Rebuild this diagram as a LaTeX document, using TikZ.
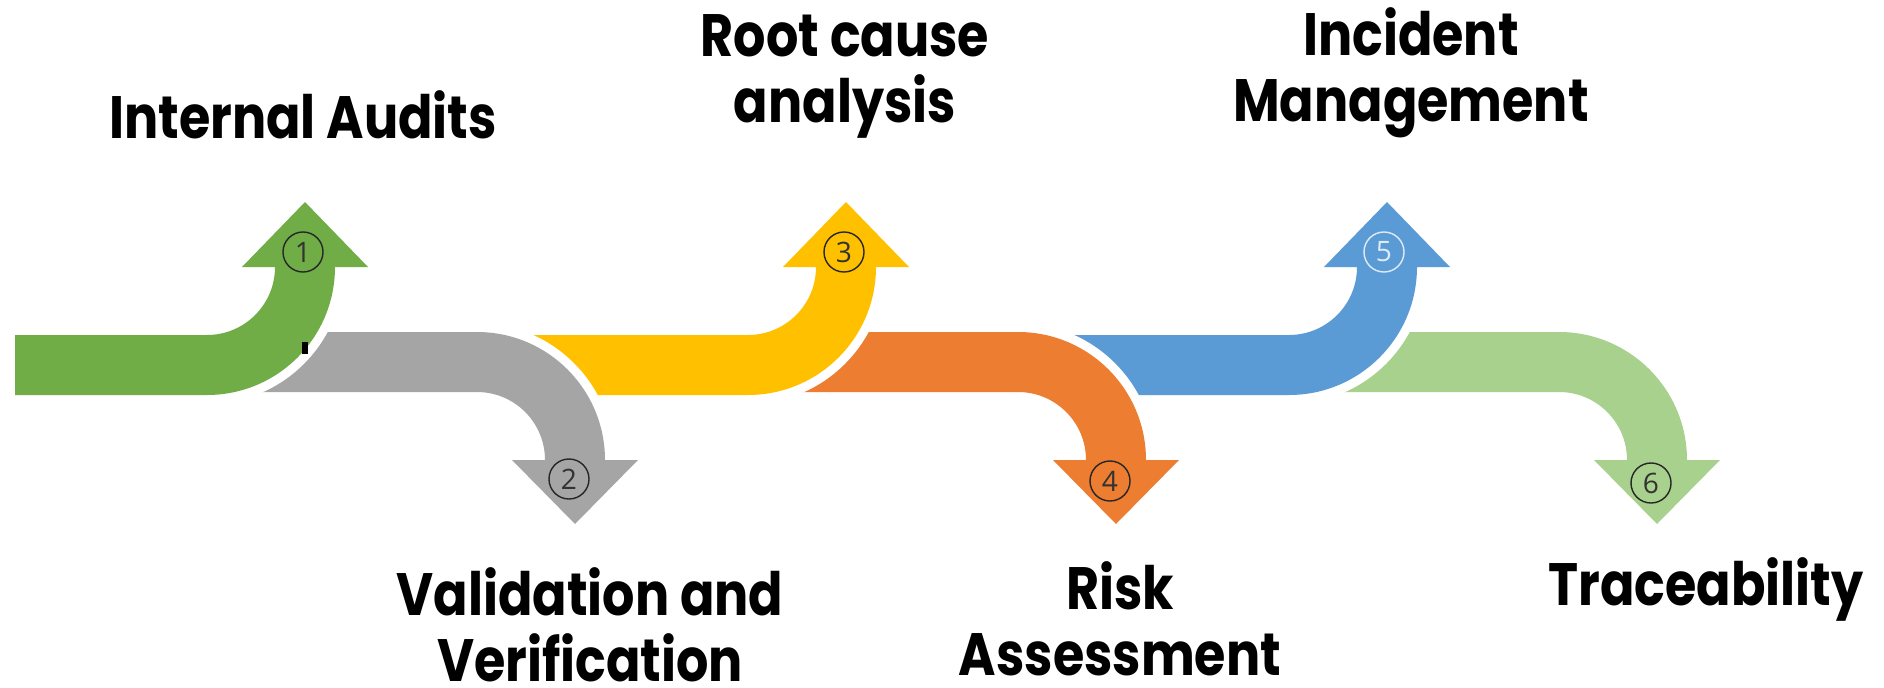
\documentclass[tikz,border=0pt]{standalone}
\usepackage{fontspec}
\setmainfont{Poppins}[FakeStretch=0.85]
\newfontfamily\numfont{Open Sans}
\usepackage{tikz}
\usepackage{xcolor}
\usetikzlibrary{calc,positioning}
\definecolor{stepGreen}{RGB}{112,173,71}
\definecolor{stepGray}{RGB}{165,165,165}
\definecolor{stepGold}{RGB}{255,192,0}
\definecolor{stepOrange}{RGB}{237,125,49}
\definecolor{stepBlue}{RGB}{91,155,213}
\definecolor{stepLime}{RGB}{169,209,142}
\definecolor{ringLight}{RGB}{222,235,247}
\tikzset{
  arrowhalo/.style={preaction={draw=white,line width=0.18cm,line join=round}},
  stepnum/.style={circle,draw=black!85,line width=0.4pt,minimum size=0.4cm,inner sep=0pt,
    text=black!80,font=\numfont\fontsize{8}{8}\selectfont},
  steptitle/.style={anchor=north,inner sep=0pt,align=center,
    font=\fontsize{17}{18.6}\selectfont\bfseries}
}
% bent arrow turning up: #1 corner x, #2 start of the band, #3 colour
\newcommand{\UpArrow}[3]{%
  \fill[#3,arrowhalo] (#2,352) -- (#1,352) arc[start angle=-90,end angle=0,radius=68]
    -- ++(-33,0) -- ++(63,65) -- ++(63,-65) -- ++(-33,0)
    arc[start angle=0,end angle=-90,radius=128] -- (#2,292) -- cycle;}
% bent arrow turning down
\newcommand{\DownArrow}[3]{%
  \fill[#3,arrowhalo] (#2,355) -- (#1,355) arc[start angle=90,end angle=0,radius=128]
    -- ++(33,0) -- ++(-63,-64) -- ++(-63,64) -- ++(33,0)
    arc[start angle=0,end angle=90,radius=68] -- (#2,295) -- cycle;}

\begin{document}
\begin{tikzpicture}[x=0.01cm,y=0.01cm]
\useasboundingbox (0,0) rectangle (1884,687);
% arrows, last one first so each bend sits on top of the next band
\DownArrow{1559}{1230}{stepLime}
\UpArrow{1289}{940}{stepBlue}
\DownArrow{1018}{690}{stepOrange}
\UpArrow{748}{400}{stepGold}
\DownArrow{477}{150}{stepGray}
\UpArrow{207}{15}{stepGreen}
\fill (302,333) rectangle (308,345);

% step numbers
\node[stepnum] (n1) at (303,435) {1};
\node[stepnum] (n2) at (569,208) {2};
\node[stepnum] (n3) at (844,435) {3};
\node[stepnum] (n4) at (1110,206) {4};
\node[stepnum,draw=ringLight,text=ringLight] (n5) at (1384,435) {5};
\node[stepnum] (n6) at (1651,204) {6};

% titles
\node[steptitle] (t1) at (303,597) {Internal Audits};
\node[steptitle] (t2) at (590,120) {Validation and\\Verification};
\node[steptitle] (t3) at (845,673) {Root cause\\analysis};
\node[steptitle] (t4) at (1120,126) {Risk\\Assessment};
\node[steptitle] (t5) at (1411,680) {Incident\\Management};
\node[steptitle] (t6) at (1706,130) {Traceability};
\end{tikzpicture}
\end{document}
